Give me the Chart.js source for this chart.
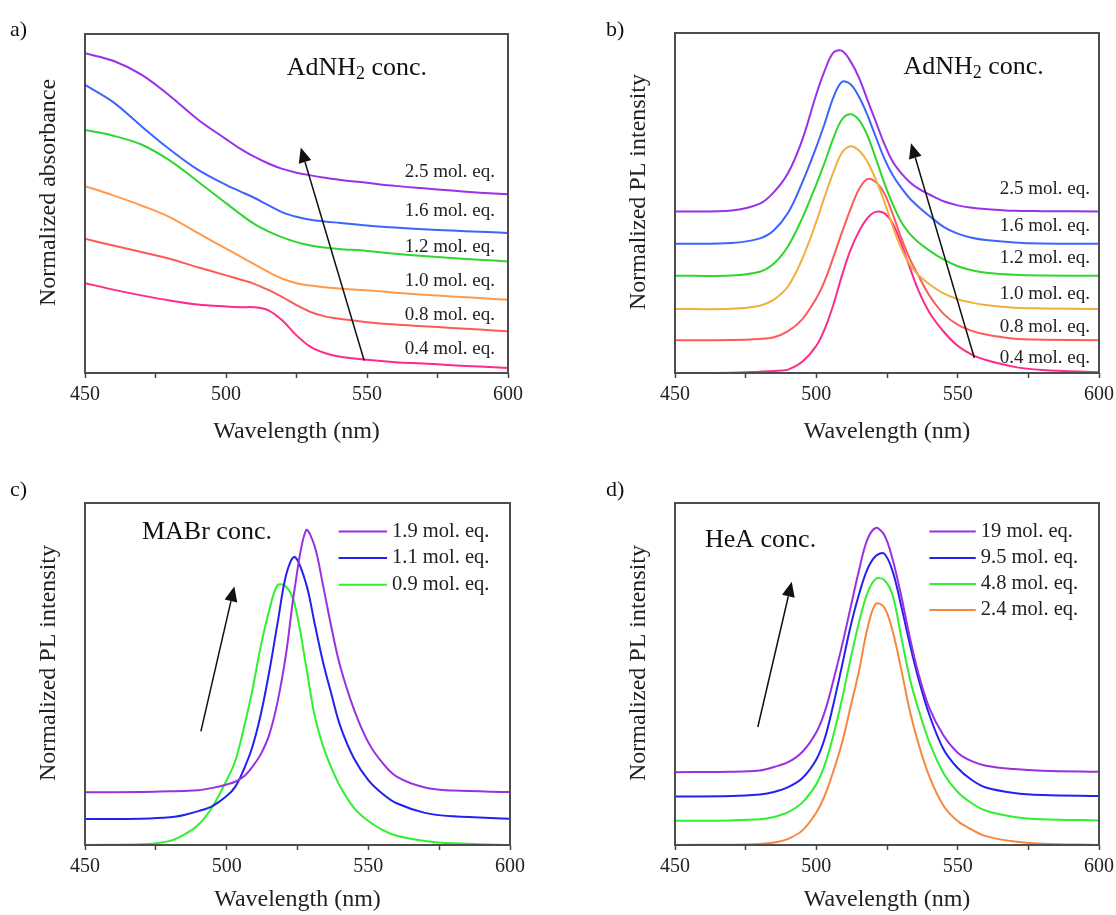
<!DOCTYPE html>
<html>
<head>
<meta charset="utf-8">
<script src="https://cdn.jsdelivr.net/npm/chart.js@4.4.1/dist/chart.umd.min.js"></script>
<style>
  body { margin: 0; background: #fff; overflow: hidden; }
  canvas { position: absolute; }
</style>
</head>
<body>
<canvas id="a" width="558" height="457" style="left:0;top:0"></canvas>
<canvas id="b" width="528" height="457" style="left:591px;top:0"></canvas>
<canvas id="c" width="558" height="455" style="left:0;top:460px"></canvas>
<canvas id="d" width="528" height="455" style="left:591px;top:460px"></canvas>
<script>
const SERIF = "'Liberation Serif', 'Times New Roman', serif";
Chart.defaults.font.family = SERIF;
Chart.defaults.color = '#222';

// a) absorbance vs AdNH2 amount
const wlA = [450, 460, 470, 480, 490, 500, 505, 510, 515, 520, 525, 530, 535, 540, 550, 560, 570, 580, 590, 600];
const absA25 = [.943, .921, .880, .818, .748, .690, .662, .638, .618, .602, .591, .583, .576, .570, .561, .552, .545, .538, .532, .527];
const absA16 = [.850, .799, .728, .660, .600, .555, .536, .517, .495, .474, .461, .452, .447, .443, .435, .429, .424, .420, .417, .413];
const absA12 = [.717, .700, .674, .627, .565, .501, .469, .440, .418, .400, .386, .376, .370, .366, .360, .352, .345, .339, .334, .329];
const absA10 = [.551, .524, .494, .460, .413, .367, .344, .321, .298, .278, .265, .258, .253, .249, .244, .237, .231, .226, .221, .216];
const absA08 = [.396, .376, .357, .337, .312, .288, .276, .263, .245, .224, .200, .180, .167, .160, .150, .143, .138, .133, .128, .123];
const absA04 = [.265, .246, .229, .214, .202, .196, .194, .194, .185, .155, .111, .077, .059, .049, .039, .032, .028, .023, .019, .015];
const lblYA = [.593, .478, .372, .271, .171, .071];

// b) PL vs AdNH2 amount
const wlB = [450, 470, 480, 485, 490, 495, 500, 503, 506, 509, 512, 515, 518, 521, 524, 527, 530, 533, 536, 540, 545, 550, 555, 560, 570, 580, 600];
const plB25 = [.475, .478, .498, .532, .588, .685, .820, .890, .942, .948, .918, .870, .805, .740, .675, .622, .588, .562, .543, .525, .505, .493, .486, .482, .477, .476, .475];
const plB16 = [.380, .382, .396, .420, .471, .560, .665, .735, .810, .856, .850, .814, .760, .695, .632, .582, .545, .514, .490, .462, .430, .410, .398, .391, .384, .381, .380];
const plB12 = [.286, .287, .298, .322, .373, .455, .555, .620, .690, .745, .761, .745, .700, .632, .560, .497, .445, .410, .385, .360, .334, .314, .302, .295, .289, .287, .286];
const plB10 = [.188, .189, .198, .216, .255, .335, .445, .520, .590, .647, .667, .655, .622, .570, .505, .432, .367, .320, .289, .261, .234, .217, .207, .200, .192, .190, .188];
const plB08 = [.096, .097, .100, .105, .123, .158, .220, .272, .340, .412, .480, .539, .570, .562, .529, .468, .398, .337, .288, .228, .174, .142, .124, .113, .101, .098, .096];
const plB04 = [0, .001, .004, .006, .010, .033, .080, .130, .200, .285, .360, .415, .455, .474, .470, .440, .382, .312, .245, .178, .122, .080, .054, .038, .018, .009, .002];
const lblYB = [.540, .431, .339, .233, .136, .044];

// c) PL vs MABr amount
const wlC = [450, 470, 480, 485, 490, 495, 500, 503, 506, 509, 512, 515, 518, 521, 524, 528, 531, 534, 537, 540, 545, 550, 555, 560, 570, 580, 600];
const plC19 = [.154, .155, .157, .158, .160, .167, .177, .185, .200, .228, .265, .322, .420, .561, .750, .920, .875, .760, .635, .525, .395, .300, .240, .200, .168, .159, .155];
const plC11 = [.076, .077, .081, .088, .099, .114, .143, .170, .220, .285, .380, .505, .650, .790, .842, .765, .650, .535, .440, .350, .252, .190, .150, .122, .094, .084, .077];
const plC09 = [0, .002, .012, .030, .059, .112, .190, .245, .340, .450, .580, .685, .760, .755, .705, .525, .380, .290, .225, .172, .108, .070, .044, .027, .012, .005, 0];
const legYC = [.917, .839, .761];

// d) PL vs HeA amount
const wlD = [450, 470, 480, 485, 490, 495, 500, 503, 506, 509, 512, 515, 518, 521, 524, 527, 530, 533, 536, 540, 545, 550, 555, 560, 570, 580, 600];
const plD19 = [.213, .214, .218, .228, .242, .272, .330, .390, .480, .580, .690, .800, .892, .927, .907, .835, .730, .610, .505, .400, .320, .270, .245, .232, .222, .217, .214];
const plD95 = [.142, .143, .148, .155, .169, .195, .250, .312, .410, .521, .635, .730, .805, .845, .852, .800, .700, .590, .490, .380, .280, .225, .190, .168, .152, .146, .143];
const plD48 = [.071, .072, .075, .082, .096, .124, .178, .235, .320, .423, .540, .648, .735, .778, .775, .730, .610, .490, .400, .300, .210, .155, .122, .100, .082, .075, .072];
const plD24 = [0, .001, .003, .007, .018, .042, .095, .145, .215, .296, .400, .505, .630, .705, .695, .625, .515, .395, .300, .200, .115, .070, .045, .026, .010, .004, 0];
const legYD = [.917, .839, .763, .687];

// arrows [x0, y0, x1(tip), y1(tip)] in data units
const arrowA = [549, .037, 526.5, .665];
const arrowB = [555.9, .044, 533.5, .676];
const arrowC = [490.9, .332, 502.7, .756];
const arrowD = [479.3, .345, 491.3, .770];

function series(label, xs, ys, color) {
  return {
    label: label,
    data: xs.map((x, i) => ({ x: x, y: ys[i] })),
    borderColor: color,
    borderWidth: 2,
    pointRadius: 0,
    fill: false,
    yAxisID: 'y',
    tension: 0.35
  };
}

function drawArrow(ctx, x0, y0, x1, y1) {
  const ang = Math.atan2(y1 - y0, x1 - x0);
  const L = 15, W = 6.5;
  const bx = x1 - L * Math.cos(ang), by = y1 - L * Math.sin(ang);
  ctx.strokeStyle = '#111';
  ctx.fillStyle = '#111';
  ctx.lineWidth = 1.5;
  ctx.beginPath(); ctx.moveTo(x0, y0); ctx.lineTo(bx, by); ctx.stroke();
  ctx.beginPath();
  ctx.moveTo(x1, y1);
  ctx.lineTo(bx + W * Math.sin(ang), by - W * Math.cos(ang));
  ctx.lineTo(bx - W * Math.sin(ang), by + W * Math.cos(ang));
  ctx.closePath();
  ctx.fill();
}

const decor = {
  id: 'decor',
  afterDraw(chart, args, o) {
    const ctx = chart.ctx, ca = chart.chartArea;
    const x = chart.scales.x, y = chart.scales.y;
    ctx.save();
    // frame
    ctx.strokeStyle = '#4d4d4d';
    ctx.lineWidth = 2;
    ctx.strokeRect(ca.left, ca.top, ca.right - ca.left, ca.bottom - ca.top);

    // panel letter
    ctx.fillStyle = '#111';
    ctx.textBaseline = 'middle';
    ctx.textAlign = 'left';
    ctx.font = '22px ' + SERIF;
    ctx.fillText(o.letter, o.letterX, 30);

    // y title
    ctx.save();
    ctx.translate(ca.left - 36, (ca.top + ca.bottom) / 2 - 11);
    ctx.rotate(-Math.PI / 2);
    ctx.textAlign = 'center';
    ctx.font = '24px ' + SERIF;
    ctx.fillStyle = '#222';
    ctx.fillText(o.yTitle, 0, 0);
    ctx.restore();

    // annotation text (with optional subscript)
    let tx = x.getPixelForValue(o.note.x);
    const ty = y.getPixelForValue(o.note.y);
    ctx.fillStyle = '#111';
    o.note.parts.forEach(p => {
      ctx.font = (p.sub ? '18px ' : '26px ') + SERIF;
      ctx.fillText(p.t, tx, ty + (p.sub ? 6 : 0));
      tx += ctx.measureText(p.t).width;
    });

    // arrow
    const a = o.arrow;
    drawArrow(ctx, x.getPixelForValue(a[0]), y.getPixelForValue(a[1]),
      x.getPixelForValue(a[2]), y.getPixelForValue(a[3]));

    // end labels
    if (o.endLabels) {
      ctx.font = '19px ' + SERIF;
      ctx.textAlign = 'right';
      ctx.fillStyle = '#222';
      chart.data.datasets.forEach((ds, i) => {
        ctx.fillText(ds.label, ca.right - o.labelDx, y.getPixelForValue(o.endLabels[i]));
      });
    }

    // legend
    if (o.legend) {
      ctx.font = '20.5px ' + SERIF;
      ctx.textAlign = 'left';
      const lx0 = x.getPixelForValue(o.legend.x0), lx1 = x.getPixelForValue(o.legend.x1);
      chart.data.datasets.forEach((ds, i) => {
        const ly = y.getPixelForValue(o.legend.ys[i]);
        ctx.strokeStyle = ds.borderColor;
        ctx.lineWidth = 2;
        ctx.beginPath(); ctx.moveTo(lx0, ly); ctx.lineTo(lx1, ly); ctx.stroke();
        ctx.fillStyle = '#222';
        ctx.fillText(ds.label, lx1 + 5, ly);
      });
    }
    ctx.restore();
  }
};

function makeChart(id, datasets, deco, pad) {
  const cv = document.getElementById(id);
  return new Chart(cv, {
    type: 'line',
    data: { datasets: datasets },
    options: {
      responsive: false,
      animation: false,
      devicePixelRatio: 1,
      layout: { padding: { top: pad.top, left: 0, right: 0, bottom: 0 } },
      plugins: { legend: { display: false }, tooltip: { enabled: false }, decor: deco },
      scales: {
        x: {
          type: 'linear', min: 450, max: 600,
          ticks: {
            stepSize: 25, autoSkip: false, maxRotation: 0, padding: 5,
            color: '#222', font: { size: 20 },
            callback: v => (v % 50 === 0 ? String(v) : '')
          },
          grid: { drawOnChartArea: false, drawTicks: true, tickLength: 5, tickColor: '#444', tickWidth: 1.5 },
          border: { display: false },
          title: {
            display: true, text: 'Wavelength (nm)', color: '#222',
            font: { size: 24 }, padding: { top: 0, bottom: pad.titleBottom }
          },
          afterFit: s => { s.height = cv.height - pad.bottom; }
        },
        y: {
          min: 0, max: 1,
          ticks: { display: false }, grid: { display: false }, border: { display: false },
          afterFit: s => { s.width = pad.left; }
        },
        y2: {
          position: 'right', min: 0, max: 1,
          ticks: { display: false }, grid: { display: false }, border: { display: false },
          afterFit: s => { s.width = pad.right; }
        }
      }
    },
    plugins: [decor]
  });
}

const subNote = [{ t: 'AdNH' }, { t: '2', sub: true }, { t: ' conc.' }];

makeChart('a', [
  series('2.5 mol. eq.', wlA, absA25, '#9a30e8'),
  series('1.6 mol. eq.', wlA, absA16, '#3c64ff'),
  series('1.2 mol. eq.', wlA, absA12, '#2ed62e'),
  series('1.0 mol. eq.', wlA, absA10, '#ff9a4c'),
  series('0.8 mol. eq.', wlA, absA08, '#ff5a5a'),
  series('0.4 mol. eq.', wlA, absA04, '#ff2a8a')
], {
  letter: 'a)', letterX: 10, yTitle: 'Normalized absorbance',
  note: { x: 521.5, y: .90, parts: subNote },
  arrow: arrowA, endLabels: lblYA, labelDx: 13
}, { top: 34, bottom: 373, left: 85, right: 50, titleBottom: 11 });

makeChart('b', [
  series('2.5 mol. eq.', wlB, plB25, '#9a30e8'),
  series('1.6 mol. eq.', wlB, plB16, '#3c64ff'),
  series('1.2 mol. eq.', wlB, plB12, '#2ed62e'),
  series('1.0 mol. eq.', wlB, plB10, '#efb040'),
  series('0.8 mol. eq.', wlB, plB08, '#ff5a5a'),
  series('0.4 mol. eq.', wlB, plB04, '#ff2a8a')
], {
  letter: 'b)', letterX: 15, yTitle: 'Normalized PL intensity',
  note: { x: 530.8, y: .90, parts: subNote },
  arrow: arrowB, endLabels: lblYB, labelDx: 9
}, { top: 33, bottom: 373, left: 84, right: 15, titleBottom: 11 });

makeChart('c', [
  series('1.9 mol. eq.', wlC, plC19, '#9a30e0'),
  series('1.1 mol. eq.', wlC, plC11, '#2222f0'),
  series('0.9 mol. eq.', wlC, plC09, '#30f030')
], {
  letter: 'c)', letterX: 10, yTitle: 'Normalized PL intensity',
  note: { x: 470.1, y: .916, parts: [{ t: 'MABr conc.' }] },
  arrow: arrowC, legend: { x0: 539.5, x1: 556.6, ys: legYC }
}, { top: 43, bottom: 385, left: 85, right: 48, titleBottom: 1 });

makeChart('d', [
  series('19 mol. eq.', wlD, plD19, '#9a30e0'),
  series('9.5 mol. eq.', wlD, plD95, '#2222f0'),
  series('4.8 mol. eq.', wlD, plD48, '#30f030'),
  series('2.4 mol. eq.', wlD, plD24, '#f5883c')
], {
  letter: 'd)', letterX: 15, yTitle: 'Normalized PL intensity',
  note: { x: 460.6, y: .892, parts: [{ t: 'HeA conc.' }] },
  arrow: arrowD, legend: { x0: 540, x1: 556.4, ys: legYD }
}, { top: 43, bottom: 385, left: 84, right: 15, titleBottom: 1 });
</script>
</body>
</html>
